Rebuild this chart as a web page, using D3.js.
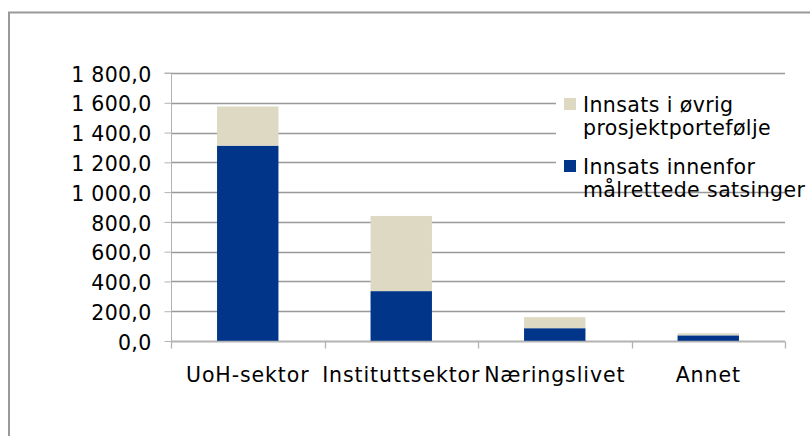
<!DOCTYPE html>
<html><head><meta charset="utf-8">
<script src="https://cdn.jsdelivr.net/npm/d3@7"></script>
<style>
html,body{margin:0;padding:0;background:#fff;}
svg{display:block;font-family:"DejaVu Sans",Verdana,sans-serif;}
</style></head>
<body>
<svg id="chart" width="810" height="436"></svg>
<script>
const categories = ["UoH-sektor", "Instituttsektor", "Næringslivet", "Annet"];
const targeted = [1312, 335, 86, 38];      // Innsats innenfor målrettede satsinger
const other = [263, 505, 74, 14];          // Innsats i øvrig prosjektportefølje
const yTicks = [0, 200, 400, 600, 800, 1000, 1200, 1400, 1600, 1800];
const legendLabels = [
  ["Innsats i øvrig", "prosjektportefølje"],
  ["Innsats innenfor", "målrettede satsinger"]
];
const colors = { targeted: "#003589", other: "#ddd9c3" };

const svg = d3.select("#chart");
const W = 810, H = 436;
const plot = { left: 171, right: 785, top: 73, bottom: 341 };

// outer frame
svg.append("rect").attr("x", 9).attr("y", 12.5).attr("width", W + 10).attr("height", H + 10)
  .attr("fill", "#fff").attr("stroke", "#999").attr("stroke-width", 2);

const x = d3.scaleBand().domain(categories).range([plot.left, plot.right]).paddingInner(0).paddingOuter(0);
const y = d3.scaleLinear().domain([0, 1800]).range([plot.bottom, plot.top]);

const loc = d3.formatLocale({ decimal: ",", thousands: "\u00a0", grouping: [3], currency: ["", ""] });
const fmt = loc.format(",.1f");

// gridlines
svg.append("g").selectAll("line").data(yTicks).join("line")
  .attr("x1", plot.left).attr("x2", plot.right)
  .attr("y1", d => Math.round(y(d)) + 0.5).attr("y2", d => Math.round(y(d)) + 0.5)
  .attr("stroke", "#999").attr("stroke-width", 1.3);

// y axis
const yAxis = d3.axisLeft(y).tickValues(yTicks).tickFormat(fmt).tickSize(7).tickPadding(13);
const gy = svg.append("g").attr("transform", `translate(${plot.left + 0.5},0)`).call(yAxis);
gy.select(".domain").attr("stroke", "#b3b3b3").attr("d", `M-7,${plot.top}H0V${plot.bottom + 6}`);
gy.selectAll(".tick line").attr("stroke", "#b3b3b3");
gy.selectAll(".tick text").attr("font-size", "20.5px").attr("fill", "#000")
  .attr("font-family", "'DejaVu Sans', Verdana, sans-serif").attr("dy", "0.4em")
  .attr("letter-spacing", "0.3px");

// bars
const stack = categories.map((c, i) => ({ c, t: targeted[i], o: other[i] }));
const bw = x.bandwidth() * 0.4;
const bars = svg.append("g");
bars.selectAll("rect.t").data(stack).join("rect").attr("class", "t")
  .attr("x", d => x(d.c) + (x.bandwidth() - bw) / 2).attr("width", bw)
  .attr("y", d => y(d.t)).attr("height", d => y(0) - y(d.t))
  .attr("fill", colors.targeted);
bars.selectAll("rect.o").data(stack).join("rect").attr("class", "o")
  .attr("x", d => x(d.c) + (x.bandwidth() - bw) / 2).attr("width", bw)
  .attr("y", d => y(d.t + d.o)).attr("height", d => y(d.t) - y(d.t + d.o))
  .attr("fill", colors.other);

// x axis
const xAxis = d3.axisBottom(x).tickSize(0).tickPadding(0);
const gx = svg.append("g").attr("transform", `translate(0,${plot.bottom + 0.5})`).call(xAxis);
gx.select(".domain").attr("stroke", "#b3b3b3").attr("stroke-width", 1.3)
  .attr("d", `M${plot.left},0H${plot.right}`);
gx.selectAll(".tick text").attr("font-size", "20.5px").attr("fill", "#000")
  .attr("font-family", "'DejaVu Sans', Verdana, sans-serif").attr("y", 40).attr("dy", 0)
  .attr("letter-spacing", "0.9px");
const edges = categories.map(c => x(c)).concat([plot.right]);
gx.append("g").selectAll("line").data(edges).join("line")
  .attr("x1", d => Math.round(d) + 0.5).attr("x2", d => Math.round(d) + 0.5)
  .attr("y1", 0).attr("y2", 7).attr("stroke", "#b3b3b3").attr("stroke-width", 1.3);

// legend
const lg = svg.append("g");
lg.append("rect").attr("x", 556).attr("y", 88).attr("width", 254).attr("height", 102).attr("fill", "#fff");
const legendColors = [colors.other, colors.targeted];
const legendTop = [112, 174];
legendLabels.forEach((lines, i) => {
  lg.append("rect").attr("x", 564).attr("y", legendTop[i] - 14).attr("width", 12).attr("height", 12)
    .attr("fill", legendColors[i]);
  lg.append("text").attr("x", 583).attr("y", legendTop[i]).attr("font-size", "20.5px").attr("fill", "#000")
    .attr("letter-spacing", "0.4px")
    .selectAll("tspan").data(lines).join("tspan")
    .attr("x", 583).attr("dy", (d, j) => j === 0 ? 0 : 23).text(d => d);
});
</script>
</body></html>
